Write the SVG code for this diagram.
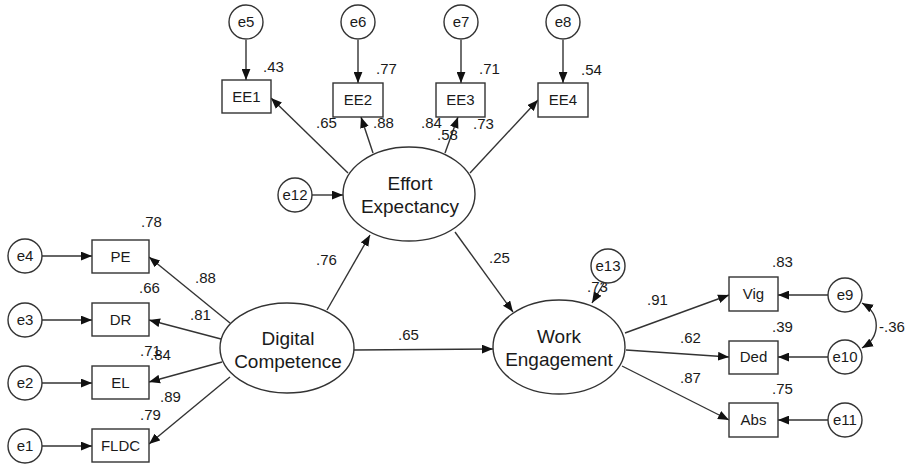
<svg xmlns="http://www.w3.org/2000/svg" width="910" height="464" viewBox="0 0 910 464">
<style>
text{font-family:"Liberation Sans",Arial,sans-serif;fill:#1a1a1a}
.n{font-size:15px}
.b{font-size:15px;text-anchor:middle}
.l{font-size:19px;text-anchor:middle}
.s{fill:#fff;stroke:#333;stroke-width:1.4}
.c line,.c path{stroke:#333;stroke-width:1.4;fill:none;marker-end:url(#a)}
</style>
<defs>
<marker id="a" viewBox="0 0 10 8" refX="10" refY="4" markerWidth="11" markerHeight="9" markerUnits="userSpaceOnUse" orient="auto-start-reverse">
<path d="M0 0L10 4L0 8z" fill="#111"/>
</marker>
</defs>
<rect width="910" height="464" fill="#fff"/>
<g class="c" id="connectors">
<line x1="246" y1="40" x2="246" y2="80"/>
<line x1="358" y1="40" x2="358" y2="83"/>
<line x1="461" y1="40" x2="461" y2="83"/>
<line x1="563" y1="40" x2="563" y2="83"/>
<line x1="348" y1="173" x2="271" y2="98"/>
<line x1="373" y1="153" x2="361" y2="117"/>
<line x1="445" y1="153" x2="458" y2="117"/>
<line x1="470" y1="173" x2="538" y2="100"/>
<line x1="312" y1="195" x2="343" y2="195"/>
<line x1="42" y1="256" x2="92" y2="256"/>
<line x1="42" y1="320" x2="92" y2="320"/>
<line x1="42" y1="383" x2="92" y2="383"/>
<line x1="42" y1="446" x2="92" y2="446"/>
<line x1="230" y1="323" x2="149" y2="257"/>
<line x1="221" y1="339" x2="149" y2="320"/>
<line x1="222" y1="362" x2="149" y2="382"/>
<line x1="230" y1="377" x2="149" y2="444"/>
<line x1="327" y1="310" x2="370" y2="235"/>
<line x1="354" y1="350" x2="493" y2="349"/>
<line x1="455" y1="232" x2="513" y2="312"/>
<line x1="604" y1="283" x2="592" y2="303"/>
<line x1="625" y1="333" x2="729" y2="295"/>
<line x1="626" y1="350" x2="729" y2="357"/>
<line x1="622" y1="366" x2="729" y2="420"/>
<line x1="828" y1="295" x2="778" y2="295"/>
<line x1="828" y1="357" x2="778" y2="357"/>
<line x1="828" y1="420" x2="778" y2="420"/>
<path d="M862 303C881 314 881 337 862 348" style="marker-start:url(#a)"/>
</g>
<g id="labels">
<text class="n" x="263" y="72">.43</text>
<text class="n" x="376" y="74">.77</text>
<text class="n" x="479" y="74">.71</text>
<text class="n" x="581" y="75">.54</text>
<text class="n" x="316" y="128">.65</text>
<text class="n" x="373" y="128">.88</text>
<text class="n" x="421" y="128">.84</text>
<text class="n" x="437" y="140">.58</text>
<text class="n" x="473" y="129">.73</text>
<text class="n" x="141" y="227">.78</text>
<text class="n" x="195" y="283">.88</text>
<text class="n" x="139" y="293">.66</text>
<text class="n" x="190" y="320">.81</text>
<text class="n" x="140" y="356">.71</text>
<text class="n" x="150" y="360">.84</text>
<text class="n" x="160" y="402">.89</text>
<text class="n" x="140" y="420">.79</text>
<text class="n" x="316" y="265">.76</text>
<text class="n" x="398" y="340">.65</text>
<text class="n" x="489" y="263">.25</text>
<text class="n" x="587" y="292">.73</text>
<text class="n" x="647" y="305">.91</text>
<text class="n" x="680" y="343">.62</text>
<text class="n" x="680" y="383">.87</text>
<text class="n" x="772" y="267">.83</text>
<text class="n" x="772" y="332">.39</text>
<text class="n" x="772" y="394">.75</text>
<text class="n" x="879" y="332">-.36</text>
</g>
<g id="e5"><circle class="s" cx="246" cy="22" r="17"/><text class="b" x="246" y="27">e5</text></g>
<g id="e6"><circle class="s" cx="358" cy="22" r="17"/><text class="b" x="358" y="27">e6</text></g>
<g id="e7"><circle class="s" cx="461" cy="22" r="17"/><text class="b" x="461" y="27">e7</text></g>
<g id="e8"><circle class="s" cx="563" cy="22" r="17"/><text class="b" x="563" y="27">e8</text></g>
<g id="EE1"><rect class="s" x="222" y="80" width="49" height="33"/><text class="b" x="246.5" y="102">EE1</text></g>
<g id="EE2"><rect class="s" x="333" y="83" width="50" height="34"/><text class="b" x="358" y="105">EE2</text></g>
<g id="EE3"><rect class="s" x="436" y="83" width="49" height="34"/><text class="b" x="460.5" y="105">EE3</text></g>
<g id="EE4"><rect class="s" x="538" y="83" width="50" height="34"/><text class="b" x="563" y="105">EE4</text></g>
<g id="e12"><circle class="s" cx="295" cy="195" r="17"/><text class="b" x="295" y="200">e12</text></g>
<g id="EffortExpectancy"><ellipse class="s" cx="409" cy="194" rx="66" ry="47"/><text class="l" x="410" y="190">Effort</text><text class="l" x="410" y="213">Expectancy</text></g>
<g id="e4"><circle class="s" cx="25" cy="256" r="17"/><text class="b" x="25" y="261">e4</text></g>
<g id="e3"><circle class="s" cx="25" cy="320" r="17"/><text class="b" x="25" y="325">e3</text></g>
<g id="e2"><circle class="s" cx="25" cy="383" r="17"/><text class="b" x="25" y="388">e2</text></g>
<g id="e1"><circle class="s" cx="25" cy="446" r="17"/><text class="b" x="25" y="451">e1</text></g>
<g id="PE"><rect class="s" x="92" y="240" width="57" height="33"/><text class="b" x="120.5" y="262">PE</text></g>
<g id="DR"><rect class="s" x="92" y="303" width="57" height="33"/><text class="b" x="120.5" y="325">DR</text></g>
<g id="EL"><rect class="s" x="92" y="366" width="57" height="33"/><text class="b" x="120.5" y="388">EL</text></g>
<g id="FLDC"><rect class="s" x="92" y="429" width="57" height="33"/><text class="b" x="120.5" y="451">FLDC</text></g>
<g id="DigitalCompetence"><ellipse class="s" cx="287" cy="348" rx="67" ry="45"/><text class="l" x="288" y="345">Digital</text><text class="l" x="288" y="368">Competence</text></g>
<g id="e13"><circle class="s" cx="608" cy="266" r="17"/><text class="b" x="608" y="271">e13</text></g>
<g id="WorkEngagement"><ellipse class="s" cx="559" cy="347" rx="66" ry="47"/><text class="l" x="559" y="343">Work</text><text class="l" x="559" y="366">Engagement</text></g>
<g id="Vig"><rect class="s" x="729" y="277" width="49" height="34"/><text class="b" x="753.5" y="299">Vig</text></g>
<g id="Ded"><rect class="s" x="729" y="341" width="49" height="33"/><text class="b" x="753.5" y="362">Ded</text></g>
<g id="Abs"><rect class="s" x="729" y="403" width="49" height="34"/><text class="b" x="753.5" y="425">Abs</text></g>
<g id="e9"><circle class="s" cx="845" cy="295" r="17"/><text class="b" x="845" y="300">e9</text></g>
<g id="e10"><circle class="s" cx="845" cy="357" r="17"/><text class="b" x="845" y="362">e10</text></g>
<g id="e11"><circle class="s" cx="845" cy="420" r="17"/><text class="b" x="845" y="425">e11</text></g>
</svg>
